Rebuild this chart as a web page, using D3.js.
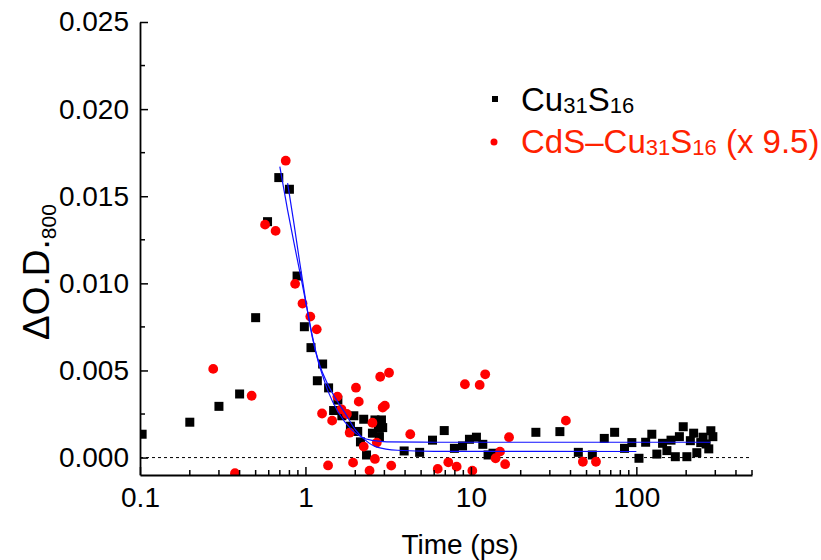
<!DOCTYPE html>
<html>
<head>
<meta charset="utf-8">
<script src="https://d3js.org/d3.v7.min.js"></script>
<style>
	body { margin: 0; background: #fff; }
	svg text { font-family: "Liberation Sans", Arial, sans-serif; }
</style>
</head>
<body>
<div id="chart"></div>
<script>
// Cu31S16 (black squares)
var cuTime = [0.103, 0.2, 0.3, 0.4, 0.5, 0.59, 0.69, 0.8, 0.89, 0.985, 1.08, 1.27, 1.18, 1.38, 1.57, 1.48, 1.66, 1.96, 1.87, 2.07,
	2.15, 2.34, 2.25, 2.63, 2.88, 2.54, 2.76, 2.93, 2.8, 3.95, 4.9, 5.86, 6.9, 7.95, 8.9, 9.8, 10.8, 11.8, 12.7, 13.6,
	24.7, 34.5, 44.6, 54.2, 64, 73.9, 84.8, 93.9, 103.7, 113.8, 124, 133, 144, 153, 162, 172, 182, 192, 202, 212,
	222, 232, 245, 253, 264, 274, 282, 290];
var cuOD = [0.00134, 0.00203, 0.00294, 0.00365, 0.00803, 0.01354, 0.01607, 0.0154, 0.01042, 0.00751, 0.00631, 0.00537, 0.00441, 0.0040, 0.0033, 0.0027, 0.0024, 0.0024, 0.0018, 0.0015,
	0.0009, 0.00015, 0.0022, 0.00216, 0.00216, 0.0014, 0.00168, 0.00172, 0.0012, 0.00038, 0.0003, 0.001, 0.00155, 0.00053, 0.00067, 0.00105, 0.00117, 0.00076, 0.00015, 0.00025,
	0.00145, 0.00149, 0.0003, 0.00015, 0.0011, 0.00145, 0.00053, 0.00086, -0.00004, 0.00088, 0.00134, 0.0002, 0.00082, 0.0004, 0.001, 0.00005, 0.0012, 0.00177, 0.00005, 0.00097,
	0.0014, 0.00028, 0.00086, 0.00117, 0.00078, 0.0005, 0.00154, 0.0012];

// CdS-Cu31S16 x 9.5 (red circles)
var cdsTime = [0.277, 0.375, 0.473, 0.57, 0.66, 0.76, 0.866, 0.96, 1.07, 1.17, 1.37, 1.26, 1.45, 1.56, 1.65, 1.78, 1.85, 1.94, 2.02, 2.1,
	2.25, 2.44, 2.54, 2.63, 2.7, 2.83, 2.93, 3.02, 3.2, 3.3, 4.3, 6.3, 7.3, 8.2, 9.2, 10.2, 11.3, 12.2, 14.1, 15.0,
	16.1, 17.0, 37.5, 47.5, 57];
var cdsOD = [0.00509, -0.0009, 0.00355, 0.01337, 0.01301, 0.01704, 0.00997, 0.00884, 0.00809, 0.00736, -0.00045, 0.00253, 0.00212, 0.0035, 0.00277, 0.0025, 0.00143, -0.00029, 0.00401, 0.00321,
	0.00063, -0.00075, 0.0020, -0.00008, 0.00086, 0.00464, 0.00287, 0.00298, 0.00487, -0.00046, 0.00134, -0.00065, -0.00027, -0.00052, 0.00421, -0.00075, 0.00417, 0.00478, -0.00004, 0.00034,
	-0.00038, 0.00117, 0.00212, -0.00024, -0.00024];

// fit curves
var fitATime = [0.70, 0.78, 0.87, 0.95, 1.02, 1.1, 1.18, 1.27, 1.37, 1.58, 1.9, 2.2, 2.6, 3.1, 6, 280];
var fitAOD = [0.0167, 0.0142, 0.0119, 0.0101, 0.0086, 0.0070, 0.0057, 0.0047, 0.0038, 0.0026, 0.0016, 0.00115, 0.00097, 0.0009, 0.00088, 0.00088];
var fitBTime = [0.78, 0.85, 0.92, 1.0, 1.1, 1.22, 1.35, 1.52, 1.74, 2.0, 2.3, 2.7, 3.6, 6, 100];
var fitBOD = [0.01575, 0.0135, 0.0113, 0.0091, 0.0069, 0.0053, 0.0043, 0.0034, 0.00254, 0.0016, 0.0010, 0.0006, 0.00042, 0.00036, 0.00035];

var xTicks = [0.1, 1, 10, 100];
var xTickLabels = ["0.1", "1", "10", "100"];
var yTicks = [0, 0.005, 0.01, 0.015, 0.02, 0.025];
var yTickLabels = ["0.000", "0.005", "0.010", "0.015", "0.020", "0.025"];
var yMinor = [0.0025, 0.0075, 0.0125, 0.0175, 0.0225];

var svg = d3.select("#chart")
	.append("svg")
	.attr("width", 821)
	.attr("height", 560)
;

var margin = {left: 140, right: 752, top: 22, bottom: 475};

var x = d3.scaleLog().domain([0.1, 500]).range([margin.left, margin.right]);
var y = d3.scaleLinear().domain([-0.001, 0.025]).range([margin.bottom, margin.top]);

svg.append("clipPath")
	.attr("id", "plotClip")
	.append("rect")
	.attr("x", margin.left)
	.attr("y", margin.top - 10)
	.attr("width", margin.right - margin.left)
	.attr("height", margin.bottom - margin.top + 10)
;

// zero line
svg.append("line")
	.attr("x1", margin.left)
	.attr("x2", margin.right)
	.attr("y1", y(0))
	.attr("y2", y(0))
	.attr("stroke", "#000")
	.attr("stroke-width", 1)
	.attr("stroke-dasharray", "3,3")
;

var plot = svg.append("g").attr("clip-path", "url(#plotClip)");

plot.selectAll(".cu")
	.data(cuTime)
	.enter().append("rect")
	.attr("class", "cu")
	.attr("x", (d) => x(d) - 4.5)
	.attr("y", (d, i) => y(cuOD[i]) - 4.5)
	.attr("width", 9)
	.attr("height", 9)
	.attr("fill", "#000")
;

plot.selectAll(".cds")
	.data(cdsTime)
	.enter().append("circle")
	.attr("class", "cds")
	.attr("cx", (d) => x(d))
	.attr("cy", (d, i) => y(cdsOD[i]))
	.attr("r", 4.9)
	.attr("fill", "#ff0000")
;

var line = d3.line()
	.x((d) => x(d[0]))
	.y((d) => y(d[1]))
	.curve(d3.curveMonotoneX)
;

plot.append("path")
	.datum(fitATime.map((t, i) => [t, fitAOD[i]]))
	.attr("d", line)
	.attr("fill", "none")
	.attr("stroke", "#1010ff")
	.attr("stroke-width", 1.2)
;

plot.append("path")
	.datum(fitBTime.map((t, i) => [t, fitBOD[i]]))
	.attr("d", line)
	.attr("fill", "none")
	.attr("stroke", "#1010ff")
	.attr("stroke-width", 1.2)
;

// axes
var xMinor = [];
for (var p = -1; p <= 2; p++) {
	for (var m = 2; m <= 9; m++) {
		var v = m * Math.pow(10, p);
		if (v <= 500) xMinor.push(v);
	}
}

var xAxis = svg.append("g")
	.attr("transform", "translate(0," + margin.bottom + ")")
	.call(d3.axisBottom(x).tickValues(xTicks).tickFormat((d, i) => xTickLabels[i]).tickSizeInner(-8).tickSizeOuter(0).tickPadding(12))
;
xAxis.append("g")
	.selectAll("line")
	.data(xMinor)
	.enter().append("line")
	.attr("x1", (d) => x(d))
	.attr("x2", (d) => x(d))
	.attr("y1", 0)
	.attr("y2", -5)
	.attr("stroke", "#000")
	.attr("stroke-width", 1.5)
;

var yAxis = svg.append("g")
	.attr("transform", "translate(" + margin.left + ",0)")
	.call(d3.axisLeft(y).tickValues(yTicks).tickFormat((d, i) => yTickLabels[i]).tickSizeInner(-8).tickSizeOuter(0).tickPadding(11))
;
yAxis.append("g")
	.selectAll("line")
	.data(yMinor)
	.enter().append("line")
	.attr("x1", 0)
	.attr("x2", 5)
	.attr("y1", (d) => y(d))
	.attr("y2", (d) => y(d))
	.attr("stroke", "#000")
	.attr("stroke-width", 1.5)
;

svg.selectAll(".domain").attr("stroke", "#000").attr("stroke-width", 1.8);
svg.selectAll(".tick line").attr("stroke", "#000").attr("stroke-width", 1.5);
svg.selectAll(".tick text")
	.attr("font-size", 28)
	.attr("font-family", "'Liberation Sans', Arial, sans-serif")
	.attr("fill", "#000")
;

// axis titles
svg.append("text")
	.attr("x", 460)
	.attr("y", 554)
	.attr("text-anchor", "middle")
	.attr("font-size", 28)
	.text("Time (ps)")
;

var yTitle = svg.append("text")
	.attr("transform", "translate(49,272)rotate(-90)")
	.attr("text-anchor", "middle")
	.attr("font-size", 37)
;
yTitle.append("tspan").text("ΔO.D.");
yTitle.append("tspan").attr("font-size", 21).attr("dy", 7).text("800");

// legend
var legend = svg.append("g");
legend.append("rect")
	.attr("x", 492)
	.attr("y", 96)
	.attr("width", 6)
	.attr("height", 6)
	.attr("fill", "#000")
;
var l1 = legend.append("text")
	.attr("x", 521)
	.attr("y", 111)
	.attr("font-size", 33)
	.attr("fill", "#000")
;
l1.append("tspan").text("Cu");
l1.append("tspan").attr("font-size", 22).attr("dy", 2).text("31");
l1.append("tspan").attr("dy", -2).text("S");
l1.append("tspan").attr("font-size", 22).attr("dy", 2).text("16");

legend.append("circle")
	.attr("cx", 494)
	.attr("cy", 142)
	.attr("r", 3.5)
	.attr("fill", "#ff0000")
;
var l2 = legend.append("text")
	.attr("x", 521)
	.attr("y", 153)
	.attr("font-size", 33)
	.attr("fill", "#ff2200")
;
l2.append("tspan").text("CdS–Cu");
l2.append("tspan").attr("font-size", 22).attr("dy", 2).text("31");
l2.append("tspan").attr("dy", -2).text("S");
l2.append("tspan").attr("font-size", 22).attr("dy", 2).text("16");
l2.append("tspan").attr("dy", -2).text(" (x 9.5)");
</script>
</body>
</html>
